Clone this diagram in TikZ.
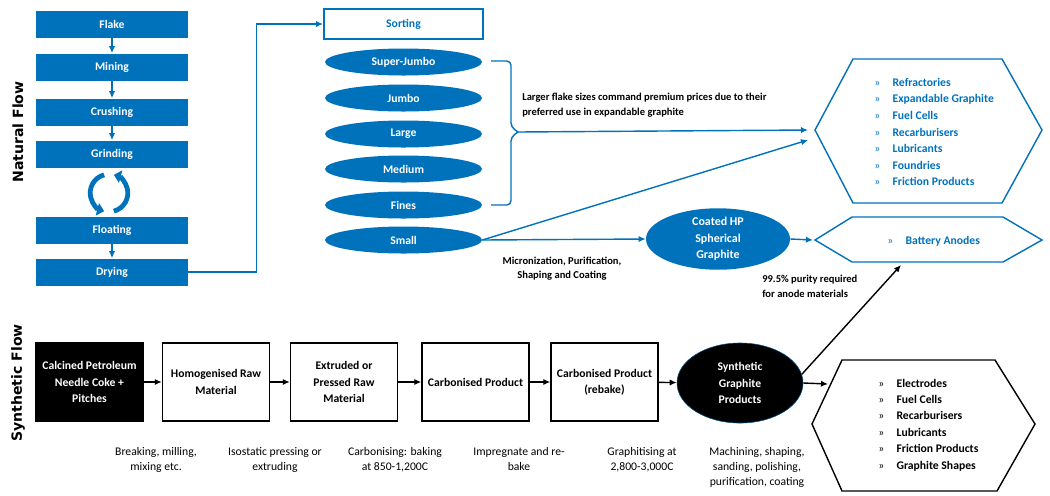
\documentclass[tikz,border=0pt]{standalone}
\usepackage{fontspec}
\setmainfont{Carlito}
\newfontfamily\sidefont{DejaVu Sans}
\usepackage{xcolor}
\usepackage{tikz}
\usetikzlibrary{shapes,arrows,positioning,calc,arrows.meta}
\definecolor{natblue}{RGB}{0,114,188}

\begin{document}
\begin{tikzpicture}[x=0.025cm, y=-0.025cm, >={Latex[length=5pt,width=4.5pt]},
    natbox/.style={fill=natblue, text=white, minimum width=3.8cm, minimum height=0.675cm, inner sep=0pt, font=\fontsize{8.3}{10}\selectfont\bfseries},
    sizeell/.style={ellipse, fill=natblue, text=white, minimum width=3.925cm, minimum height=0.675cm, inner sep=0pt, font=\fontsize{8.3}{10}\selectfont\bfseries},
    synbox/.style={draw=black, line width=1pt, fill=white, minimum width=2.675cm, minimum height=1.95cm, inner sep=0pt, align=center, font=\fontsize{8.3}{11.5}\selectfont\bfseries},
    natline/.style={natblue, line width=1pt},
    synline/.style={black, line width=1pt},
    note/.style={inner sep=0pt, font=\fontsize{7.5}{10.6}\selectfont\bfseries},
    step note/.style={inner sep=0pt, align=center, font=\fontsize{8.3}{10.6}\selectfont}
]
    \useasboundingbox (0,0) rectangle (1050,495);

    % Side titles
    \node[rotate=90, font=\sidefont\fontsize{10}{12}\selectfont\bfseries] (natlabel) at (18,132) {Natural Flow};
    \node[rotate=90, font=\sidefont\fontsize{10}{12}\selectfont\bfseries] (synlabel) at (18,383) {Synthetic Flow};

    % Natural flow column
    \node[natbox] (flake) at (112,24) {Flake};
    \node[natbox] (mining) at (112,67) {Mining};
    \node[natbox] (crushing) at (112,112) {Crushing};
    \node[natbox] (grinding) at (112,154) {Grinding};
    \node[natbox] (floating) at (112,230) {Floating};
    \node[natbox] (drying) at (112,272) {Drying};
    \draw[natline, ->] (flake) -- (mining);
    \draw[natline, ->] (mining) -- (crushing);
    \draw[natline, ->] (crushing) -- (grinding);
    \draw[natline, ->] (floating) -- (drying);

    % Recycle icon
    \coordinate (cycle) at (109,193);
    \begin{scope}[shift={(cycle)}, x=1cm, y=1cm]
        \draw[natblue, line width=3.4pt, -{Triangle[length=5pt,width=9pt]}] (105:0.47) arc[start angle=105, end angle=255, radius=0.47];
        \draw[natblue, line width=3.4pt, -{Triangle[length=5pt,width=9pt]}] (285:0.47) arc[start angle=285, end angle=435, radius=0.47];
    \end{scope}

    % Sorting
    \node[draw=natblue, line width=1.2pt, text=natblue, minimum width=3.975cm, minimum height=0.75cm, inner sep=0pt, font=\fontsize{8.3}{10}\selectfont\bfseries] (sorting) at (403.5,24) {Sorting};
    \draw[natline, ->] (drying.east) -- ++(68,0) |- (sorting.west);

    \node[sizeell] (superjumbo) at (403.5,62) {Super-Jumbo};
    \node[sizeell] (jumbo) at (403.5,98) {Jumbo};
    \node[sizeell] (large) at (403.5,134) {Large};
    \node[sizeell] (medium) at (403.5,169) {Medium};
    \node[sizeell] (fines) at (403.5,205) {Fines};
    \node[sizeell] (small) at (403.5,240) {Small};

    % Brace over the flake sizes
    \coordinate (brace) at (518,132);
    \draw[natline, rounded corners=3pt] (491,61) -| (511,127) -- (brace);
    \draw[natline, rounded corners=3pt] (491,205) -| (511,137) -- (brace);
    \node[note, anchor=west, align=left] (larger) at (522,105) {Larger flake sizes command premium prices due to their\\preferred use in expandable graphite};

    % Natural end uses
    \draw[natline] (815,130) -- (853,59) -- (1002,59) -- (1042,130) -- (1002,203) -- (853,203) -- cycle;
    \coordinate (usesin1) at (808,130);
    \coordinate (usesin2) at (808,140);
    \node[anchor=west, inner sep=0pt, align=left, text=natblue, font=\fontsize{8.3}{11.8}\selectfont\bfseries] (naturaluses) at (874,132)
        {\makebox[13pt][l]{\mdseries»}Refractories\\\makebox[13pt][l]{\mdseries»}Expandable Graphite\\\makebox[13pt][l]{\mdseries»}Fuel Cells\\\makebox[13pt][l]{\mdseries»}Recarburisers\\\makebox[13pt][l]{\mdseries»}Lubricants\\\makebox[13pt][l]{\mdseries»}Foundries\\\makebox[13pt][l]{\mdseries»}Friction Products};
    \draw[natline, ->] (brace) -- (usesin1);
    \draw[natline, ->] (small.east) -- (usesin2);

    % Spherical graphite
    \node[ellipse, fill=natblue, text=white, minimum width=3.6cm, minimum height=1.25cm, inner sep=0pt, align=center, font=\fontsize{8.5}{11.8}\selectfont\bfseries] (coated) at (718,239) {Coated HP\\Spherical\\Graphite};
    \draw[natline, ->] (small.east) -- (coated.west);
    \node[note, align=center, font=\fontsize{7.5}{10}\selectfont\bfseries] (micro) at (562,269) {Micronization, Purification,\\Shaping and Coating};

    % Battery anodes
    \draw[natline] (815,240) -- (852,217) -- (1003,217) -- (1042,240) -- (1003,262) -- (852,262) -- cycle;
    \coordinate (batteryin) at (813,240);
    \coordinate (batterybot) at (901,265);
    \node[anchor=west, inner sep=0pt, text=natblue, font=\fontsize{8.3}{10}\selectfont\bfseries] (battery) at (887,241) {\makebox[13pt][l]{\mdseries»}Battery Anodes};
    \draw[natline, ->] (coated.east) -- (batteryin);
    \node[note, anchor=west, align=left] (purity) at (762,286) {99.5\% purity required\\for anode materials};

    % Synthetic flow
    \node[synbox, fill=black, text=white] (coke) at (89.5,382) {Calcined Petroleum\\Needle Coke +\\Pitches};
    \node[synbox] (homog) at (216,382) {Homogenised Raw\\Material};
    \node[synbox] (extruded) at (344,382) {Extruded or\\Pressed Raw\\Material};
    \node[synbox] (carbon) at (475.5,382) {Carbonised Product};
    \node[synbox] (rebake) at (604.5,382) {Carbonised Product\\(rebake)};
    \node[ellipse, draw=natblue!70!black, fill=black, text=white, minimum width=3.15cm, minimum height=2cm, inner sep=0pt, align=center, font=\fontsize{8.3}{11.8}\selectfont\bfseries] (synth) at (740,383) {Synthetic\\Graphite\\Products};
    \draw[synline, ->] (coke) -- (homog);
    \draw[synline, ->] (homog) -- (extruded);
    \draw[synline, ->] (extruded) -- (carbon);
    \draw[synline, ->] (carbon) -- (rebake);
    \draw[synline, ->] (rebake) -- (synth);

    % Step notes
    \node[step note, anchor=north] (note1) at (156,447) {Breaking, milling,\\mixing etc.};
    \node[step note, anchor=north] (note2) at (275,447) {Isostatic pressing or\\extruding};
    \node[step note, anchor=north] (note3) at (395,447) {Carbonising: baking\\at 850-1,200C};
    \node[step note, anchor=north] (note4) at (519,447) {Impregnate and re-\\bake};
    \node[step note, anchor=north] (note5) at (642,447) {Graphitising at\\2,800-3,000C};
    \node[step note, anchor=north] (note6) at (757,447) {Machining, shaping,\\sanding, polishing,\\purification, coating};

    % Synthetic end uses
    \draw[synline] (812,424) -- (842,360) -- (995,360) -- (1035,424) -- (997,491) -- (842,491) -- cycle;
    \coordinate (synusesin) at (828,384);
    \node[anchor=west, inner sep=0pt, align=left, font=\fontsize{8.3}{11.7}\selectfont\bfseries] (synuses) at (878,425)
        {\makebox[13pt][l]{\mdseries»}Electrodes\\\makebox[13pt][l]{\mdseries»}Fuel Cells\\\makebox[13pt][l]{\mdseries»}Recarburisers\\\makebox[13pt][l]{\mdseries»}Lubricants\\\makebox[13pt][l]{\mdseries»}Friction Products\\\makebox[13pt][l]{\mdseries»}Graphite Shapes};
    \draw[synline, ->] (synth.east) -- (synusesin);
    \draw[synline, ->] (synth.8) -- (batterybot);
\end{tikzpicture}
\end{document}
